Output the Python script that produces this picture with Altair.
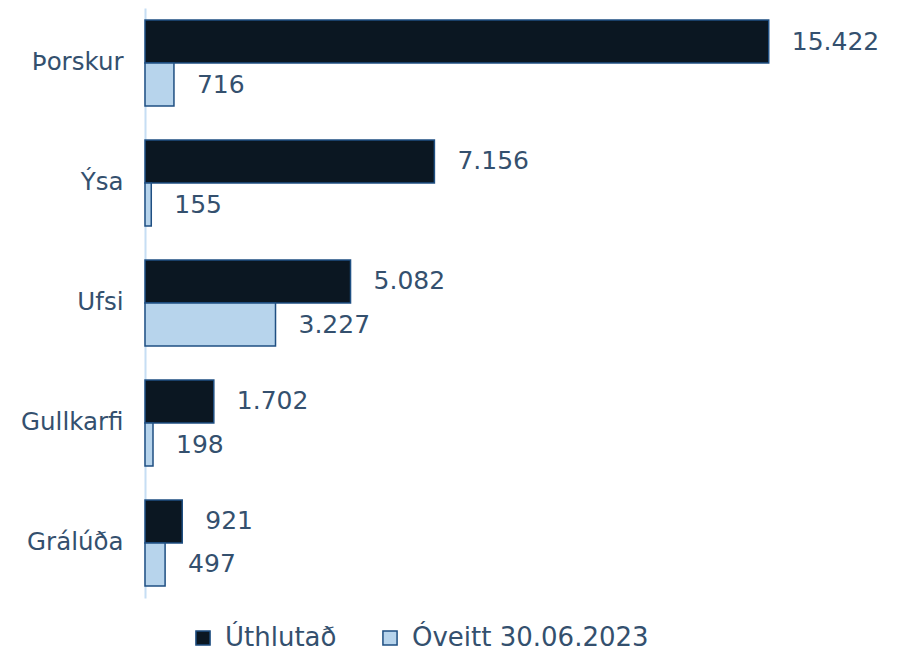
import altair as alt
import pandas as pd

categories = ["Þorskur", "Ýsa", "Ufsi", "Gullkarfi", "Grálúða"]
series = ["Úthlutað", "Óveitt 30.06.2023"]
uthlutad = [15422, 7156, 5082, 1702, 921]
oveitt = [716, 155, 3227, 198, 497]

rows = []
for c, a, b in zip(categories, uthlutad, oveitt):
    rows.append({"cat": c, "series": series[0], "value": a})
    rows.append({"cat": c, "series": series[1], "value": b})
df = pd.DataFrame(rows)
df["label"] = df["value"].map(lambda v: f"{v:,}".replace(",", "."))

FONT = "DejaVu Sans"
TXT = "#34506e"

y = alt.Y("cat:N", sort=categories, title=None,
          scale=alt.Scale(paddingInner=0.2833, paddingOuter=0.1),
          axis=alt.Axis(ticks=False, domain=True, domainColor="#c6def4", domainWidth=2,
                        labelFont=FONT, labelFontSize=24.5, labelColor=TXT,
                        labelPadding=22, minExtent=137, grid=False, labelLimit=0))
yoff = alt.YOffset("series:N", sort=series, scale=alt.Scale(paddingInner=0, paddingOuter=0))
x = alt.X("value:Q", scale=alt.Scale(domain=[0, 18000]), axis=None)

bars = alt.Chart(df).mark_bar(stroke="#1f4f82", strokeWidth=1.5).encode(
    y=y, yOffset=yoff, x=x,
    color=alt.Color("series:N", sort=series, title=None,
                    scale=alt.Scale(domain=series, range=["#0b1722", "#b7d4ec"]),
                    legend=alt.Legend(orient="none", legendX=45, legendY=617,
                                      direction="horizontal",
                                      symbolType="square", symbolSize=200,
                                      symbolStrokeColor="#1f4f82", symbolStrokeWidth=1.5,
                                      labelFont=FONT, labelFontSize=26, labelColor=TXT,
                                      labelLimit=0, columnPadding=40, labelOffset=9)),
)

labels = alt.Chart(df).mark_text(align="left", baseline="middle", dx=23,
                                 font=FONT, fontSize=25, color=TXT).encode(
    y=y, yOffset=yoff, x=x, text="label:N")

chart = (bars + labels).properties(width=728, height=590, padding=0).configure_view(stroke=None)
chart.save("out.html", embed_options={"renderer": "svg", "actions": False})
